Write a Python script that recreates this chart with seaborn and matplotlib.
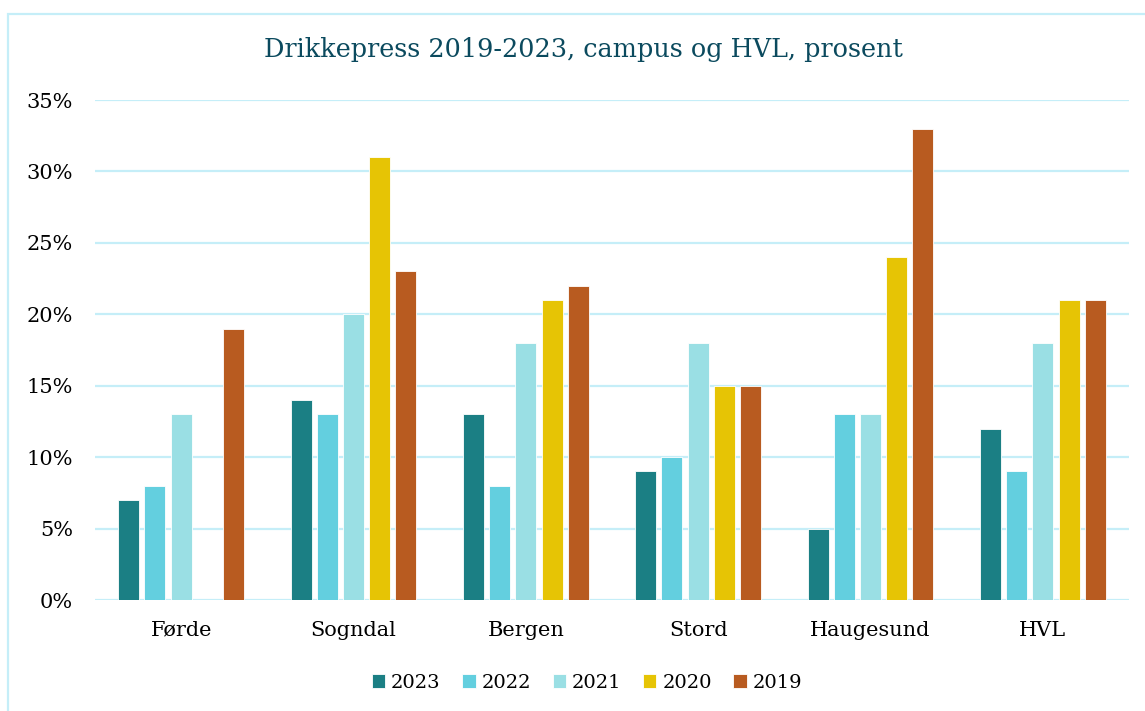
import matplotlib
matplotlib.use("Agg")
import matplotlib.pyplot as plt
import seaborn as sns
import pandas as pd
import numpy as np
from matplotlib.patches import Rectangle
from matplotlib.ticker import FuncFormatter

categories = ["Førde", "Sogndal", "Bergen", "Stord", "Haugesund", "HVL"]
years = ["2023", "2022", "2021", "2020", "2019"]
v2023 = [7, 14, 13, 9, 5, 12]
v2022 = [8, 13, 8, 10, 13, 9]
v2021 = [13, 20, 18, 18, 13, 18]
v2020 = [np.nan, 31, 21, 15, 24, 21]
v2019 = [19, 23, 22, 15, 33, 21]
colors = ["#1B7F84", "#63CFDF", "#9ADFE4", "#E6C405", "#B85B20"]
yticks = [0, 5, 10, 15, 20, 25, 30, 35]

rows = []
for y, vals in zip(years, [v2023, v2022, v2021, v2020, v2019]):
    for c, v in zip(categories, vals):
        rows.append({"campus": c, "year": y, "value": v})
df = pd.DataFrame(rows)

sns.set_style("white")
plt.rcParams["font.family"] = ["DejaVu Serif"]
plt.rcParams["text.color"] = "black"

fig = plt.figure(figsize=(11.45, 7.11), dpi=100)
ax = fig.add_axes([95/1145, 1 - 600/711, (1129-95)/1145, 500/711])

sns.barplot(data=df, x="campus", y="value", hue="year", hue_order=years,
            palette=colors, width=0.76, gap=0.2, ax=ax, edgecolor="white",
            linewidth=0.6, saturation=1)

ax.set_xlim(-0.5, 5.5)
ax.set_ylim(0, 35)
ax.set_yticks(yticks)
ax.yaxis.set_major_formatter(FuncFormatter(lambda v, p: f"{int(v)}%"))
ax.grid(axis="y", color="#C5EEF8", linewidth=1.6)
ax.set_axisbelow(True)
for s in ax.spines.values():
    s.set_visible(False)
ax.set_xlabel("")
ax.set_ylabel("")
ax.tick_params(axis="both", length=0, labelsize=15, colors="black")
ax.tick_params(axis="y", pad=16)
ax.tick_params(axis="x", pad=15)

leg = ax.legend(loc="center", bbox_to_anchor=((587-95)/1034, (600-683)/500), ncol=5,
                frameon=False, fontsize=14, handlelength=0.7, handleheight=0.7,
                handletextpad=0.3, columnspacing=1.1)
for t in leg.get_texts():
    t.set_color("black")

fig.text(583/1145, 1 - 50/711, "Drikkepress 2019-2023, campus og HVL, prosent",
         ha="center", va="center", fontsize=18.4, color="#0B4A5E")

fig.patches.append(Rectangle((8/1145, -0.1), 1.2, 1 - 14/711 + 0.1,
                             transform=fig.transFigure, fill=False,
                             edgecolor="#C5EEF8", linewidth=1.6))

fig.savefig("out.png", dpi=100)
